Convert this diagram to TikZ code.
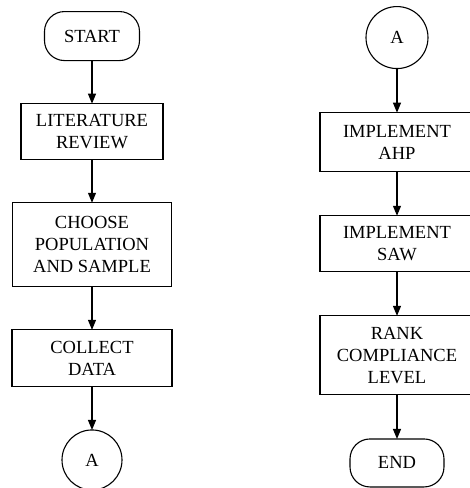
\documentclass[tikz,border=0pt]{standalone}
\usepackage{fontspec}
\setmainfont{Liberation Serif}
\usetikzlibrary{matrix,arrows.meta}

\tikzset{
	flowbox/.style={draw, rectangle, align=center, inner sep=2pt},
	terminal/.style={draw, rectangle, rounded corners=20pt, align=center, inner sep=2pt},
	connector/.style={draw, circle, inner sep=0pt}
}

\begin{document}
\begin{tikzpicture}[x=1pt, y=-1pt, line width=1.1pt, >={Triangle[length=10pt,width=8pt]}, font=\fontsize{18.5}{22}\selectfont]
\useasboundingbox (0,0) rectangle (470,488);
\clip (0,0) rectangle (470,488);
\matrix (l) [row sep=42pt, inner sep=0pt, outer sep=0pt, anchor=north] at (92,11)
{
	\node[terminal, minimum width=95pt, minimum height=49pt] (start) {START}; \\
	\node[flowbox, minimum width=142pt, minimum height=56pt] (review) {LITERATURE\\REVIEW}; \\
	\node[flowbox, minimum width=159pt, minimum height=84pt] (sample) {CHOOSE\\POPULATION\\AND SAMPLE}; \\
	\node[flowbox, minimum width=160pt, minimum height=57pt] (collect) {COLLECT\\DATA}; \\
	\node[connector, minimum size=60pt] (a-out) {A}; \\
};
\matrix (r) [row sep=43pt, inner sep=0pt, outer sep=0pt, anchor=north] at (397,6)
{
	\node[connector, minimum size=62pt] (a-in) {A}; \\
	\node[flowbox, minimum width=154pt, minimum height=59pt] (ahp) {IMPLEMENT\\AHP}; \\
	\node[flowbox, minimum width=154pt, minimum height=56pt] (saw) {IMPLEMENT\\SAW}; \\
	\node[flowbox, minimum width=154pt, minimum height=79pt] (rank) {RANK\\COMPLIANCE\\LEVEL}; \\
	\node[terminal, minimum width=94pt, minimum height=48pt] (end) {END}; \\
};
\path[->]
(start) edge (review)
(review) edge (sample)
(sample) edge (collect)
(collect) edge (a-out)
(a-in) edge (ahp)
(ahp) edge (saw)
(saw) edge (rank)
(rank) edge (end)
;
\end{tikzpicture}
\end{document}
